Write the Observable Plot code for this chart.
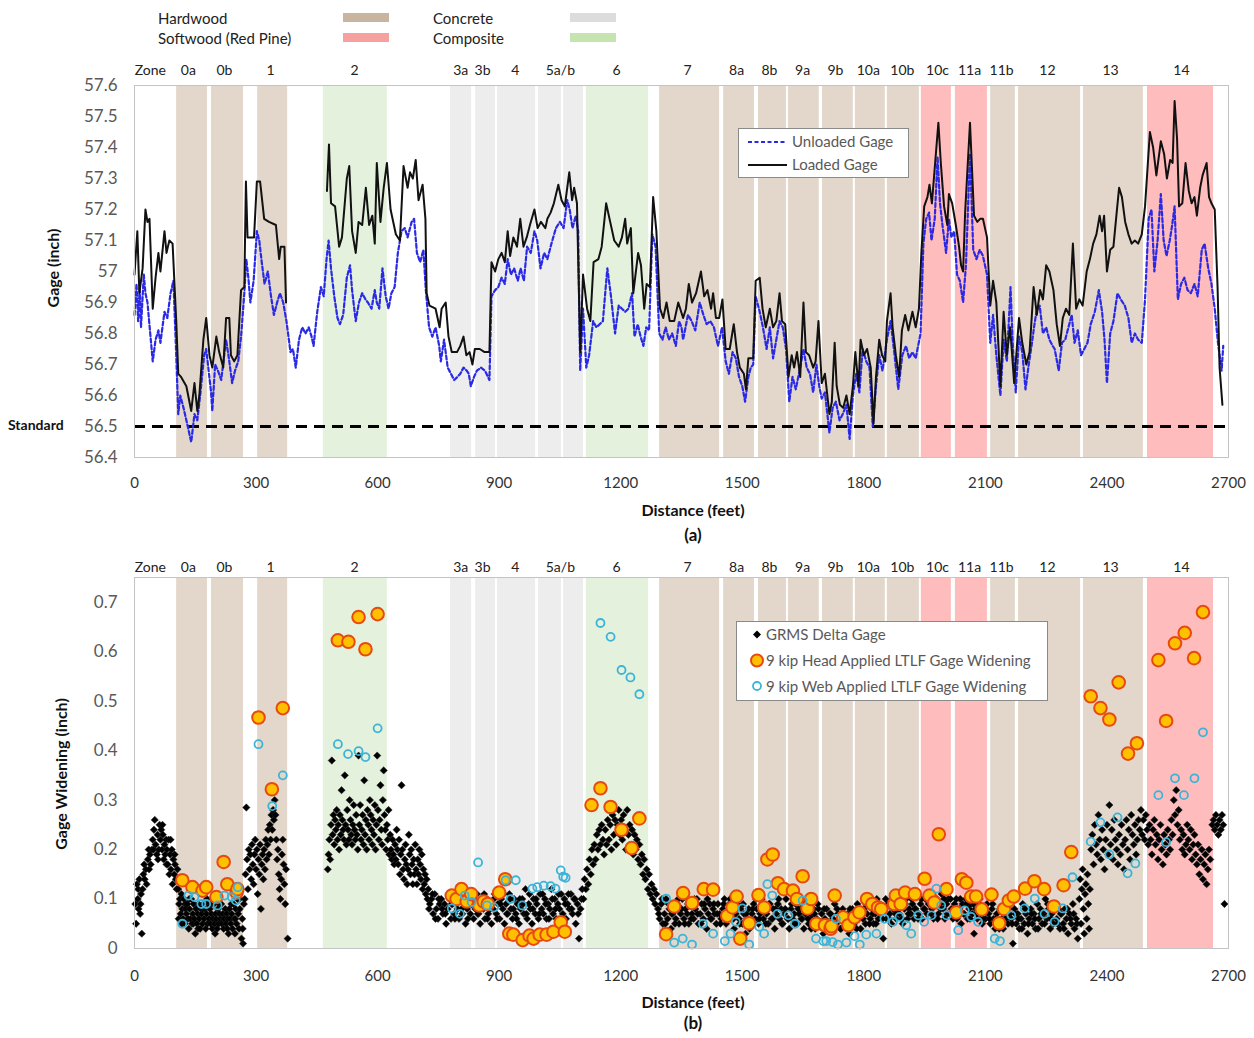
<!DOCTYPE html>
<html>
<head>
<meta charset="utf-8">
<script src="https://cdn.jsdelivr.net/npm/d3@7"></script>
<script src="https://cdn.jsdelivr.net/npm/@observablehq/plot@0.6"></script>
<style>
  html, body { margin:0; padding:0; background:#fff; }
  #wrap { position:relative; width:1254px; height:1038px; font-family: Lato, "Open Sans", sans-serif; color:#222; overflow:hidden; }
  .abs { position:absolute; white-space:nowrap; line-height:18px; }
  .sw { position:absolute; }
  .title { font-weight:bold; font-size:16px; color:#111; }
  .leg { position:absolute; background:#fff; border:1px solid #8a8a8a; }
  .legtxt { position:absolute; font-size:15px; color:#595959; white-space:nowrap; line-height:18px; }
</style>
</head>
<body>
<div id="wrap">
  <!-- material legend -->
  <div class="abs" style="left:158px;top:9px;font-size:15px;">Hardwood</div>
  <div class="abs" style="left:158px;top:29px;font-size:15px;">Softwood (Red Pine)</div>
  <div class="abs" style="left:433px;top:9px;font-size:15px;">Concrete</div>
  <div class="abs" style="left:433px;top:29px;font-size:15px;">Composite</div>
  <div class="sw" id="sw0" style="left:343px;top:13px;width:46px;height:9px;"></div>
  <div class="sw" id="sw1" style="left:343px;top:33px;width:46px;height:9px;"></div>
  <div class="sw" id="sw2" style="left:570px;top:13px;width:46px;height:9px;"></div>
  <div class="sw" id="sw3" style="left:570px;top:33px;width:46px;height:9px;"></div>

  <div id="plotA" style="position:absolute;left:0;top:50px;"></div>
  <div id="plotB" style="position:absolute;left:0;top:540px;"></div>

  <!-- axis titles -->
  <div class="abs title" style="left:53px;top:268px;transform:translate(-50%,-50%) rotate(-90deg);font-size:16px;">Gage (inch)</div>
  <div class="abs title" style="left:8px;top:416px;font-size:14px;">Standard</div>
  <div class="abs title" style="left:693px;top:510px;transform:translate(-50%,-50%);">Distance (feet)</div>
  <div class="abs title" style="left:693px;top:535px;transform:translate(-50%,-50%);font-size:17px;">(a)</div>

  <div class="abs title" style="left:61px;top:774px;transform:translate(-50%,-50%) rotate(-90deg);font-size:16px;">Gage Widening (inch)</div>
  <div class="abs title" style="left:693px;top:1002px;transform:translate(-50%,-50%);">Distance (feet)</div>
  <div class="abs title" style="left:693px;top:1023px;transform:translate(-50%,-50%);font-size:17px;">(b)</div>

  <!-- legend (a) -->
  <div class="leg" style="left:738px;top:128px;width:169px;height:48px;"></div>
  <svg style="position:absolute;left:745px;top:130px;" width="46" height="44">
    <line x1="3" y1="12" x2="42" y2="12" stroke="#2a2ae6" stroke-width="2.2" stroke-dasharray="4,2.5"/>
    <line x1="3" y1="35" x2="42" y2="35" stroke="#111" stroke-width="2"/>
  </svg>
  <div class="legtxt" style="left:792px;top:132px;">Unloaded Gage</div>
  <div class="legtxt" style="left:792px;top:155px;">Loaded Gage</div>

  <!-- legend (b) -->
  <div class="leg" style="left:736px;top:621px;width:310px;height:78px;"></div>
  <svg style="position:absolute;left:745px;top:622px;" width="24" height="76">
    <path d="M12,8.5 L16,12.5 L12,16.5 L8,12.5 Z" fill="#000"/>
    <circle cx="12" cy="38.5" r="6" fill="#ffc000" stroke="#e8490f" stroke-width="2"/>
    <circle cx="12" cy="64" r="4" fill="none" stroke="#3cb4d8" stroke-width="1.8"/>
  </svg>
  <div class="legtxt" style="left:766px;top:625px;">GRMS Delta Gage</div>
  <div class="legtxt" style="left:766px;top:651px;">9 kip Head Applied LTLF Gage Widening</div>
  <div class="legtxt" style="left:766px;top:677px;">9 kip Web Applied LTLF Gage Widening</div>
</div>

<script>
// ---------- zones ----------
const zoneStart = [104,190,304,466,780,842,896,997,1059,1115,1296,1454,1540,1614,1698,1779,1858,1942,2026,2113,2182,2342,2500];
const zoneEnd   = [180,269,378,624,832,891,990,1054,1108,1269,1444,1530,1609,1690,1774,1853,1937,2016,2105,2174,2335,2490,2663];
const zoneType  = ["Hardwood","Hardwood","Hardwood","Composite","Concrete","Concrete","Concrete","Concrete","Concrete","Composite",
                   "Hardwood","Hardwood","Hardwood","Hardwood","Hardwood","Hardwood","Hardwood","Softwood","Softwood","Hardwood",
                   "Hardwood","Hardwood","Softwood"];
const zoneLabelText = ["Zone","0a","0b","1","2","3a","3b","4","5a/b","6","7","8a","8b","9a","9b","10a","10b","10c","11a","11b","12","13","14"];
const zoneLabelPos  = [39,133,222,336,543,805,859,940,1051,1190,1365,1486,1567,1649,1730,1811,1895,1982,2061,2140,2253,2409,2584];
const materialNames = ["Hardwood","Softwood","Concrete","Composite"];
const bandColors    = ["#e2d7ca","#ffbcbc","#ededed","#e4f1dc"];
const swatchColors  = ["#c9b49f","#f7a0a0","#dcdcdc","#c6e4b0"];

// ---------- axes ----------
const xTicks  = [0,300,600,900,1200,1500,1800,2100,2400,2700];
const yTicksA = [56.4,56.5,56.6,56.7,56.8,56.9,57.0,57.1,57.2,57.3,57.4,57.5,57.6];
const yTicksB = [0,0.1,0.2,0.3,0.4,0.5,0.6,0.7];
const standardGage = 56.5;

// ---------- panel (a) series ----------
const loadedGage = [[0,56.99],[7,57.13],[12,56.93],[20,57.01],[27,57.2],[32,57.16],[37,57.17],[45,56.88],[52,56.98],[59,57.06],[64,57.0],[74,57.13],[79,57.06],[86,57.1],[94,57.09],[103,56.84],[108,56.67],[115,56.66],[128,56.63],[140,56.55],[148,56.64],[155,56.55],[160,56.6],[170,56.78],[177,56.85],[185,56.73],[192,56.69],[202,56.79],[209,56.74],[219,56.69],[226,56.85],[234,56.85],[238,56.73],[246,56.71],[254,56.73],[263,56.94],[271,56.95],[275,57.29],[279,57.11],[287,57.11],[295,57.11],[302,57.29],[310,57.29],[320,57.17],[332,57.16],[349,57.15],[357,57.04],[361,57.08],[370,57.08],[374,56.9],[420,null],[475,57.26],[480,57.41],[485,57.22],[495,57.21],[505,57.08],[512,57.11],[524,57.3],[530,57.34],[537,57.13],[546,57.06],[553,57.16],[562,57.15],[571,57.27],[579,57.15],[587,57.18],[593,57.09],[598,57.35],[607,57.16],[615,57.27],[623,57.35],[632,57.2],[645,57.12],[655,57.1],[664,57.34],[674,57.27],[680,57.32],[687,57.3],[694,57.36],[701,57.23],[711,57.28],[718,57.17],[721,56.93],[728,56.89],[743,56.88],[753,56.82],[758,56.88],[768,56.9],[775,56.79],[783,56.74],[796,56.74],[804,56.76],[812,56.79],[819,56.73],[827,56.74],[834,56.7],[840,56.75],[852,56.75],[864,56.74],[876,56.74],[881,57.03],[890,57.0],[898,57.04],[906,57.06],[914,57.03],[921,57.13],[927,57.05],[935,57.11],[944,57.08],[952,57.17],[960,57.08],[968,57.11],[976,57.15],[987,57.2],[995,57.14],[1003,57.16],[1014,57.14],[1019,57.17],[1027,57.19],[1035,57.22],[1046,57.28],[1054,57.23],[1062,57.21],[1073,57.32],[1080,57.23],[1085,57.27],[1092,57.22],[1100,56.74],[1107,56.99],[1117,56.88],[1125,56.84],[1133,57.03],[1145,57.04],[1153,57.08],[1164,57.22],[1174,57.16],[1184,57.1],[1195,57.08],[1203,57.11],[1211,57.17],[1216,57.09],[1225,57.14],[1231,56.93],[1243,57.06],[1250,57.02],[1258,56.88],[1264,56.96],[1272,56.95],[1280,57.24],[1288,57.13],[1297,56.88],[1305,56.85],[1313,56.9],[1321,56.84],[1332,56.84],[1342,56.9],[1354,56.85],[1361,56.88],[1368,56.96],[1376,56.9],[1386,56.93],[1398,57.0],[1406,56.92],[1414,56.94],[1423,56.88],[1428,56.93],[1435,56.85],[1443,56.85],[1451,56.91],[1459,56.75],[1469,56.75],[1479,56.83],[1487,56.74],[1494,56.69],[1504,56.67],[1509,56.62],[1515,56.72],[1527,56.72],[1533,56.97],[1543,56.98],[1550,56.88],[1558,56.82],[1568,56.88],[1576,56.82],[1584,56.84],[1592,56.93],[1598,56.84],[1606,56.83],[1614,56.66],[1622,56.73],[1628,56.69],[1635,56.74],[1643,56.66],[1651,56.9],[1657,56.74],[1665,56.73],[1675,56.69],[1681,56.71],[1688,56.84],[1696,56.64],[1704,56.67],[1715,56.54],[1721,56.58],[1728,56.77],[1733,56.63],[1741,56.57],[1749,56.56],[1757,56.6],[1765,56.54],[1773,56.63],[1779,56.74],[1787,56.63],[1792,56.78],[1800,56.73],[1808,56.75],[1817,56.69],[1824,56.51],[1830,56.66],[1838,56.78],[1845,56.73],[1853,56.71],[1857,56.84],[1866,56.93],[1871,56.82],[1879,56.73],[1887,56.66],[1894,56.81],[1902,56.86],[1910,56.81],[1920,56.87],[1928,56.82],[1936,56.88],[1942,57.06],[1949,57.21],[1957,57.24],[1962,57.28],[1968,57.22],[1976,57.35],[1984,57.48],[1990,57.35],[1998,57.21],[2006,57.15],[2010,57.25],[2018,57.22],[2027,57.15],[2035,57.08],[2040,57.02],[2045,57.0],[2050,57.19],[2062,57.48],[2072,57.18],[2080,57.16],[2087,57.17],[2094,57.17],[2104,57.11],[2112,56.89],[2119,56.97],[2127,56.9],[2137,56.63],[2145,56.87],[2153,56.73],[2161,56.82],[2171,56.64],[2183,56.85],[2191,56.77],[2201,56.7],[2209,56.74],[2219,56.95],[2227,56.86],[2235,56.94],[2242,56.91],[2250,57.02],[2258,57.0],[2268,56.94],[2276,56.83],[2284,56.76],[2291,56.85],[2299,56.88],[2307,56.86],[2316,57.09],[2324,56.88],[2332,56.91],[2340,56.89],[2350,57.0],[2358,57.04],[2366,57.09],[2374,57.12],[2382,57.18],[2388,57.13],[2393,57.18],[2400,57.0],[2408,57.07],[2416,57.08],[2424,57.19],[2430,57.27],[2437,57.24],[2445,57.16],[2453,57.12],[2461,57.09],[2469,57.1],[2477,57.09],[2486,57.12],[2494,57.21],[2500,57.33],[2506,57.45],[2514,57.4],[2522,57.31],[2533,57.42],[2541,57.38],[2548,57.3],[2556,57.36],[2562,57.35],[2567,57.55],[2573,57.43],[2578,57.21],[2586,57.22],[2594,57.35],[2602,57.26],[2609,57.22],[2616,57.24],[2622,57.18],[2630,57.27],[2636,57.31],[2646,57.35],[2652,57.24],[2658,57.22],[2666,57.2],[2673,56.95],[2678,56.69],[2685,56.57]];

const unloadedGage = [[0,56.86],[5,56.96],[9,56.84],[13,56.95],[16,56.82],[23,56.99],[27,56.93],[32,56.9],[45,56.71],[52,56.78],[59,56.81],[64,56.77],[74,56.87],[81,56.85],[89,56.93],[96,56.97],[103,56.73],[108,56.54],[113,56.6],[121,56.56],[128,56.52],[140,56.45],[148,56.54],[155,56.52],[162,56.6],[172,56.73],[177,56.75],[189,56.61],[192,56.55],[199,56.7],[206,56.68],[214,56.65],[226,56.78],[233,56.72],[241,56.64],[248,56.68],[256,56.71],[263,56.79],[271,56.93],[276,57.04],[281,56.98],[286,56.9],[294,56.97],[302,57.13],[308,57.1],[314,57.03],[321,56.96],[329,57.0],[337,56.92],[344,56.86],[352,56.9],[359,56.93],[367,56.9],[375,56.84],[385,56.74],[391,56.75],[398,56.69],[406,56.78],[414,56.82],[422,56.8],[430,56.82],[437,56.79],[442,56.76],[451,56.87],[460,56.95],[467,56.92],[474,57.04],[479,57.1],[485,57.01],[493,56.92],[501,56.85],[507,56.83],[515,56.86],[524,56.98],[532,57.02],[537,56.94],[546,56.84],[554,56.9],[562,56.93],[570,56.91],[576,56.9],[585,56.88],[593,56.94],[598,56.9],[604,56.88],[612,57.01],[620,56.92],[627,56.88],[634,56.93],[642,56.95],[650,57.06],[659,57.13],[667,57.14],[674,57.11],[684,57.16],[690,57.17],[697,57.06],[705,57.03],[713,57.07],[719,56.94],[727,56.82],[735,56.79],[743,56.82],[752,56.76],[756,56.71],[764,56.78],[773,56.69],[781,56.67],[789,56.65],[797,56.66],[804,56.67],[812,56.69],[820,56.68],[825,56.67],[830,56.63],[838,56.66],[845,56.68],[855,56.69],[865,56.68],[876,56.65],[881,56.92],[890,56.94],[898,56.95],[906,56.98],[914,56.96],[921,57.04],[929,56.99],[937,57.01],[946,56.97],[953,57.01],[961,56.97],[969,57.08],[978,57.06],[987,57.13],[994,57.1],[1002,57.01],[1011,57.06],[1019,57.04],[1029,57.09],[1040,57.14],[1050,57.16],[1059,57.14],[1068,57.23],[1074,57.2],[1081,57.14],[1089,57.18],[1095,57.13],[1100,56.68],[1107,56.88],[1115,56.69],[1122,56.73],[1132,56.84],[1140,56.82],[1148,56.83],[1156,56.84],[1163,56.95],[1167,57.01],[1176,56.92],[1186,56.8],[1195,56.89],[1203,56.88],[1211,56.87],[1219,56.88],[1228,56.93],[1234,56.79],[1242,56.83],[1249,56.79],[1256,56.76],[1263,56.82],[1270,56.81],[1278,57.12],[1286,57.08],[1295,56.8],[1303,56.78],[1311,56.82],[1319,56.78],[1327,56.8],[1336,56.76],[1344,56.84],[1350,56.82],[1354,56.78],[1366,56.86],[1375,56.84],[1384,56.81],[1395,56.9],[1404,56.86],[1412,56.83],[1421,56.84],[1430,56.82],[1440,56.76],[1450,56.82],[1459,56.71],[1467,56.67],[1476,56.74],[1484,56.72],[1492,56.66],[1500,56.63],[1507,56.58],[1515,56.66],[1521,56.69],[1527,56.7],[1533,56.92],[1543,56.87],[1551,56.82],[1560,56.75],[1568,56.82],[1576,56.72],[1584,56.78],[1592,56.84],[1600,56.82],[1608,56.75],[1616,56.58],[1624,56.66],[1632,56.62],[1643,56.69],[1651,56.75],[1659,56.69],[1667,56.67],[1675,56.61],[1683,56.7],[1690,56.63],[1696,56.59],[1704,56.61],[1715,56.48],[1723,56.56],[1731,56.58],[1740,56.52],[1748,56.54],[1757,56.57],[1765,56.46],[1773,56.6],[1781,56.67],[1789,56.61],[1797,56.75],[1806,56.71],[1814,56.69],[1822,56.5],[1830,56.63],[1838,56.73],[1846,56.68],[1857,56.78],[1866,56.84],[1875,56.74],[1885,56.62],[1895,56.73],[1904,56.76],[1912,56.72],[1920,56.74],[1928,56.72],[1940,56.8],[1947,57.09],[1954,57.17],[1961,57.19],[1967,57.1],[1975,57.17],[1982,57.37],[1988,57.22],[1994,57.15],[2003,57.06],[2010,57.17],[2016,57.11],[2023,57.13],[2030,56.99],[2037,56.97],[2045,56.9],[2052,57.02],[2062,57.38],[2070,57.07],[2078,57.04],[2086,57.07],[2094,57.05],[2104,56.99],[2112,56.77],[2119,56.86],[2127,56.73],[2137,56.6],[2145,56.78],[2153,56.71],[2162,56.95],[2168,56.75],[2175,56.61],[2183,56.79],[2191,56.74],[2199,56.62],[2207,56.7],[2215,56.77],[2220,56.82],[2226,56.87],[2234,56.89],[2242,56.8],[2250,56.82],[2258,56.78],[2266,56.76],[2271,56.75],[2281,56.68],[2289,56.77],[2297,56.78],[2305,56.82],[2313,56.86],[2320,56.77],[2328,56.81],[2336,56.73],[2344,56.75],[2352,56.77],[2360,56.83],[2370,56.87],[2380,56.94],[2388,56.87],[2394,56.78],[2400,56.64],[2408,56.8],[2416,56.84],[2426,56.93],[2434,56.91],[2444,56.89],[2453,56.85],[2461,56.77],[2469,56.8],[2477,56.78],[2486,56.77],[2494,56.91],[2503,57.17],[2510,57.2],[2517,57.0],[2525,57.1],[2533,57.25],[2540,57.1],[2547,57.05],[2555,57.1],[2561,57.15],[2567,57.21],[2575,56.91],[2583,56.96],[2591,56.98],[2599,56.94],[2607,56.93],[2616,56.96],[2624,56.92],[2634,57.07],[2641,57.09],[2650,57.01],[2658,56.96],[2666,56.88],[2674,56.77],[2683,56.68],[2687,56.76]];

// ---------- panel (b) series: GRMS delta gage (distance, widening) ----------
const grmsZone0 = [2,.09,4,.05,6,.13,8,.1,9,.12,10,.08,12,.14,14,.07,15,.09,16,.11,18,.03,20,.12,22,.15,24,.17,25,.14,28,.16,30,.13,33,.18,35,.2,36,.16,38,.19,40,.17,43,.2,45,.22,47,.2,48,.24,50,.26,52,.21,55,.19,57,.23,58,.18,60,.2,62,.25,64,.22,66,.24,68,.2,69,.25,70,.23,72,.18,74,.21,76,.19,78,.22,79,.17,80,.2,82,.17,84,.22,86,.15,88,.19,89,.22,90,.16,92,.2,94,.13,96,.18,98,.15,99,.19,100,.17,102,.14,104,.12,106,.16];
const grmsZone0ab = [108,.12,109,.06,110,.09,112,.1,114,.07,116,.11,117,.05,118,.08,120,.06,122,.1,124,.05,125,.09,126,.08,128,.07,130,.09,132,.06,134,.04,135,.1,136,.08,138,.06,140,.1,142,.05,144,.07,145,.05,146,.09,148,.06,150,.03,152,.08,154,.05,156,.07,157,.04,158,.09,160,.06,162,.04,164,.08,166,.07,168,.05,169,.08,170,.09,172,.06,174,.08,176,.04,178,.07,179,.1,180,.05,182,.09,184,.06,186,.08,188,.05,189,.09,190,.07,192,.04,194,.06,196,.09,198,.05,199,.03,200,.07,202,.06,204,.04,206,.08,208,.05,209,.09,210,.07,212,.06,214,.09,216,.05,218,.07,219,.06,220,.04,222,.06,224,.08,226,.05,228,.07,229,.04,230,.06,232,.03,234,.08,236,.06,238,.05,239,.09,240,.07,242,.04,244,.09,246,.06,248,.03,249,.06,250,.08,252,.05,254,.1,256,.07,258,.04,259,.1,260,.08,262,.12,264,.02,266,.06,267,.04,268,.01,270,.09];
const grmsZone1 = [272,.1,274,.15,276,.285,278,.18,280,.12,282,.2,284,.16,286,.19,288,.14,290,.21,292,.17,294,.13,296,.19,298,.22,300,.16,302,.2,304,.11,306,.18,308,.15,310,.21,312,.08,314,.17,316,.19,318,.14,320,.2,322,.16,324,.22,326,.18,328,.21,330,.24,332,.19,334,.25,336,.22,338,.27,340,.24,342,.28,344,.26,346,.3,348,.27,350,.22,352,.18,354,.2,356,.15,358,.12,360,.1,362,.14,364,.19,366,.22,368,.17,370,.13,372,.09,374,.16,378,.02];
const grmsZone2 = [477,.16,479,.19,481,.22,483,.18,485,.25,487,.38,489,.23,491,.27,493,.21,495,.26,497,.24,499,.28,501,.22,503,.25,505,.2,507,.27,509,.23,511,.32,513,.26,515,.24,517,.22,519,.35,521,.25,523,.21,525,.28,527,.24,529,.22,531,.3,533,.26,535,.23,537,.21,539,.25,541,.29,543,.24,545,.22,547,.27,549,.23,551,.2,553,.39,555,.25,557,.29,559,.22,561,.24,563,.27,565,.21,567,.34,569,.23,571,.26,573,.2,575,.28,577,.25,579,.22,581,.3,583,.27,585,.24,587,.21,589,.26,591,.23,593,.29,595,.2,597,.25,599,.39,601,.28,603,.22,605,.26,607,.33,609,.24,611,.21,613,.3,615,.36,617,.27,619,.24,621,.2,623,.25,625,.22,627,.28,629,.19,631,.23,633,.2,635,.18,637,.22,639,.19,641,.17,643,.21,645,.18,647,.24,649,.2,651,.17,653,.22,655,.15,657,.19,659,.33,661,.2,663,.16,665,.14,667,.18,669,.21,671,.17,673,.13,675,.16,677,.23,679,.19,681,.15,683,.2,685,.17,687,.13,689,.18,691,.15,693,.21,695,.16,697,.13,699,.18,701,.15,703,.2,705,.17,707,.14,709,.19,711,.12,713,.16,715,.13,717,.15,719,.11,721,.14,723,.1];
const grmsConcrete = [725,.12,729,.09,733,.1,737,.07,741,.11,745,.08,749,.06,753,.09,757,.1,761,.07,765,.09,769,.05,773,.08,777,.1,781,.06,785,.09,789,.07,793,.11,797,.08,801,.06,805,.1,809,.07,813,.09,817,.05,821,.08,825,.1,829,.07,833,.09,837,.06,841,.08,845,.11,849,.07,853,.05,857,.09,861,.08,865,.06,869,.1,873,.07,877,.09,881,.05,885,.08,889,.11,893,.07,897,.09,901,.06,905,.1,909,.08,913,.05,917,.09,921,.07,925,.11,929,.08,933,.06,937,.1,941,.07,945,.09,949,.05,953,.08,957,.1,961,.07,965,.12,969,.06,973,.09,977,.08,981,.05,985,.1,989,.07,993,.09,997,.06,1001,.11,1005,.08,1009,.07,1013,.1,1017,.06,1021,.09,1025,.08,1029,.12,1033,.07,1037,.1,1041,.06,1045,.09,1049,.08,1053,.11,1057,.07,1061,.1,1065,.06,1069,.09,1073,.08,1077,.11,1081,.07,1085,.1,1089,.05,1093,.09,1097,.02,1101,.08,1105,.12];
const grmsConcrete2 = [727,.08,735,.11,743,.06,751,.1,759,.08,767,.07,775,.11,783,.09,791,.06,799,.1,807,.08,815,.11,823,.06,831,.09,839,.1,847,.07,855,.09,863,.11,871,.06,879,.08,887,.1,895,.06,903,.09,911,.11,919,.07,927,.1,935,.08,943,.06,951,.1,959,.09,967,.07,975,.11,983,.08,991,.1,999,.07,1007,.11,1015,.09,1023,.06,1031,.1,1039,.08,1047,.11,1055,.06,1063,.09,1071,.11,1079,.08,1087,.1,1095,.07,1103,.1];
const grmsZone6 = [1108,.1,1111,.14,1114,.12,1117,.16,1120,.13,1123,.18,1126,.15,1129,.2,1132,.17,1135,.21,1138,.18,1141,.23,1144,.2,1147,.24,1150,.21,1153,.25,1156,.22,1159,.19,1162,.24,1165,.21,1168,.26,1171,.22,1174,.25,1177,.2,1180,.27,1183,.23,1186,.26,1189,.21,1192,.25,1195,.28,1198,.23,1201,.26,1204,.22,1207,.27,1210,.24,1213,.2,1216,.28,1219,.23,1222,.25,1225,.21,1228,.24,1231,.19,1234,.23,1237,.2,1240,.22,1243,.18,1246,.21,1249,.17,1252,.19,1255,.15,1258,.18,1261,.14,1264,.16,1267,.12,1270,.15,1273,.11,1276,.13,1279,.1,1282,.12,1285,.09,1288,.11];
const grmsZones7to12 = [1292,.08,1296,.06,1300,.09,1304,.05,1308,.07,1312,.1,1316,.06,1320,.08,1324,.04,1328,.07,1332,.09,1336,.06,1340,.08,1344,.05,1348,.07,1352,.1,1356,.06,1360,.08,1364,.07,1368,.05,1372,.09,1376,.07,1380,.06,1384,.08,1388,.1,1392,.05,1396,.07,1400,.09,1404,.06,1408,.08,1412,.04,1416,.07,1420,.09,1424,.06,1428,.08,1432,.07,1436,.05,1440,.09,1444,.07,1448,.06,1452,.08,1456,.1,1460,.05,1464,.07,1468,.09,1472,.06,1476,.08,1480,.04,1484,.07,1488,.09,1492,.06,1496,.08,1500,.05,1504,.07,1508,.03,1512,.06,1516,.08,1520,.05,1524,.07,1528,.09,1532,.06,1536,.08,1540,.05,1544,.07,1548,.1,1552,.06,1556,.08,1560,.07,1564,.05,1568,.09,1572,.06,1576,.08,1580,.04,1584,.07,1588,.09,1592,.06,1596,.08,1600,.05,1604,.07,1608,.1,1612,.06,1616,.04,1620,.08,1624,.06,1628,.07,1632,.09,1636,.05,1640,.07,1644,.08,1648,.06,1652,.04,1656,.07,1660,.09,1664,.05,1668,.07,1672,.06,1676,.08,1680,.04,1684,.06,1688,.08,1692,.05,1696,.07,1700,.03,1704,.06,1708,.08,1712,.05,1716,.07,1720,.04,1724,.06,1728,.09,1732,.05,1736,.07,1740,.06,1744,.04,1748,.08,1752,.06,1756,.05,1760,.07,1764,.03,1768,.06,1772,.08,1776,.05,1780,.07,1784,.09,1788,.06,1792,.04,1796,.07,1800,.08,1804,.05,1808,.07,1812,.09,1816,.06,1820,.08,1824,.05,1828,.07,1832,.1,1836,.06,1840,.08,1844,.07,1848,.02,1852,.08,1856,.06,1860,.09,1864,.07,1868,.05,1872,.08,1876,.1,1880,.06,1884,.08,1888,.07,1892,.09,1896,.05,1900,.08,1904,.1,1908,.06,1912,.08,1916,.07,1920,.09,1924,.06,1928,.08,1932,.11,1936,.07,1940,.09,1944,.06,1948,.08,1952,.1,1956,.07,1960,.09,1964,.11,1968,.08,1972,.06,1976,.09,1980,.1,1984,.07,1988,.09,1992,.11,1996,.08,2000,.06,2004,.09,2008,.1,2012,.07,2016,.08,2020,.06,2024,.09,2028,.1,2032,.07,2036,.08,2040,.05,2044,.09,2048,.07,2052,.1,2056,.06,2060,.08,2064,.09,2068,.07,2072,.03,2076,.08,2080,.06,2084,.09,2088,.07,2092,.05,2096,.08,2100,.06,2104,.09,2108,.07,2112,.05,2116,.08,2120,.06,2124,.04,2128,.07,2132,.05,2136,.08,2140,.06,2144,.04,2148,.07,2152,.09,2156,.05,2160,.07,2164,.06,2168,.01,2172,.08,2176,.05,2180,.07,2184,.04,2188,.06,2192,.09,2196,.05,2200,.07,2204,.03,2208,.06,2212,.08,2216,.05,2220,.07,2224,.04,2228,.09,2232,.06,2236,.08,2240,.05,2244,.07,2248,.1,2252,.06,2256,.08,2260,.04,2264,.07,2268,.05,2272,.09,2276,.06,2280,.08,2284,.04,2288,.07,2292,.05,2296,.08,2300,.06,2304,.03,2308,.07,2312,.05,2316,.09,2320,.04,2324,.06,2328,.02];
const grmsZones7to12b = [1294,.07,1302,.1,1310,.05,1318,.09,1326,.07,1334,.05,1342,.1,1350,.08,1358,.05,1366,.09,1374,.06,1382,.1,1390,.07,1398,.05,1406,.09,1414,.1,1422,.06,1430,.09,1438,.07,1446,.05,1454,.09,1462,.07,1470,.1,1478,.06,1486,.08,1494,.05,1502,.09,1510,.07,1518,.04,1526,.08,1534,.1,1542,.06,1550,.08,1558,.05,1566,.09,1574,.06,1582,.08,1590,.1,1598,.05,1606,.08,1614,.06,1622,.09,1630,.05,1638,.08,1646,.06,1654,.09,1662,.06,1670,.04,1678,.07,1686,.09,1694,.05,1702,.08,1710,.04,1718,.07,1726,.05,1734,.08,1742,.04,1750,.07,1758,.05,1766,.08,1774,.06,1782,.04,1790,.08,1798,.06,1806,.09,1814,.05,1822,.07,1830,.05,1838,.09,1846,.06,1854,.1,1862,.06,1870,.09,1878,.07,1886,.1,1894,.06,1902,.09,1910,.07,1918,.1,1926,.08,1934,.06,1942,.1,1950,.08,1958,.11,1966,.07,1974,.09,1982,.06,1990,.08,1998,.1,2006,.07,2014,.1,2022,.08,2030,.06,2038,.1,2046,.07,2054,.09,2062,.06,2070,.09,2078,.07,2086,.1,2094,.06,2102,.08,2110,.06,2118,.09,2126,.06,2134,.04,2142,.08,2150,.06,2158,.08,2166,.05,2174,.07,2182,.06,2190,.04,2198,.08,2206,.05,2214,.07,2222,.06,2230,.04,2238,.07,2246,.05,2254,.09,2262,.06,2270,.08,2278,.05,2286,.07,2294,.04,2302,.08,2310,.06,2318,.07,2326,.05];
const grmsZones13to14 = [2332,.1,2334,.14,2336,.05,2338,.12,2340,.16,2342,.08,2344,.03,2346,.11,2348,.13,2350,.06,2352,.15,2354,.09,2356,.04,2358,.12,2361,.2,2364,.23,2367,.17,2370,.25,2373,.21,2376,.19,2379,.27,2382,.22,2385,.18,2388,.24,2391,.2,2394,.16,2397,.22,2400,.25,2403,.19,2406,.29,2409,.21,2412,.24,2415,.18,2418,.26,2421,.22,2424,.2,2427,.17,2430,.23,2433,.19,2436,.25,2439,.21,2442,.16,2445,.22,2448,.26,2451,.2,2454,.24,2457,.18,2460,.27,2463,.23,2466,.21,2469,.25,2472,.19,2475,.22,2478,.26,2481,.24,2484,.28,2487,.23,2490,.26,2493,.22,2496,.27,2499,.24,2502,.21,2505,.25,2508,.22,2511,.19,2514,.24,2517,.26,2520,.21,2523,.23,2526,.18,2529,.22,2532,.25,2535,.2,2538,.17,2541,.23,2544,.21,2547,.19,2550,.24,2553,.22,2556,.2,2559,.26,2562,.23,2565,.3,2568,.27,2571,.32,2574,.25,2577,.28,2580,.22,2583,.24,2586,.2,2589,.23,2592,.19,2595,.21,2598,.25,2601,.22,2604,.2,2607,.24,2610,.18,2613,.21,2616,.23,2619,.19,2622,.17,2625,.21,2628,.15,2631,.18,2634,.2,2637,.14,2640,.17,2643,.19,2646,.13,2649,.16,2652,.2,2655,.18,2660,.25,2663,.26,2666,.24,2669,.27,2672,.25,2675,.23,2678,.26,2681,.24,2684,.27,2687,.25,2690,.09];

// 9 kip head applied LTLF gage widening
const headWidening = [[118,.138],[143,.124],[168,.117],[177,.124],[202,.104],[220,.175],[229,.13],[252,.113],[254,.12],[306,.467],[339,.322],[366,.486],[502,.623],[528,.62],[553,.67],[570,.605],[600,.676],[783,.107],[795,.1],[807,.12],[820,.095],[831,.11],[851,.087],[862,.095],[872,.09],[900,.113],[915,.14],[925,.03],[935,.028],[958,.017],[975,.026],[985,.02],[1000,.028],[1017,.028],[1034,.034],[1052,.053],[1062,.034],[1128,.29],[1150,.324],[1175,.286],[1202,.24],[1227,.203],[1246,.263],[1312,.029],[1332,.085],[1354,.112],[1376,.092],[1405,.12],[1428,.119],[1463,.066],[1476,.083],[1486,.105],[1495,.02],[1517,.051],[1540,.108],[1554,.083],[1562,.18],[1575,.19],[1588,.132],[1603,.12],[1625,.117],[1635,.1],[1649,.146],[1661,.081],[1670,.1],[1683,.05],[1704,.047],[1718,.04],[1720,.045],[1728,.107],[1749,.063],[1762,.047],[1777,.063],[1789,.073],[1808,.1],[1821,.09],[1835,.083],[1843,.08],[1875,.09],[1879,.107],[1891,.09],[1902,.113],[1926,.11],[1950,.141],[1962,.107],[1974,.093],[1985,.231],[2004,.12],[2028,.073],[2042,.14],[2053,.133],[2065,.105],[2077,.105],[2091,.079],[2115,.109],[2134,.051],[2146,.08],[2158,.097],[2170,.105],[2198,.121],[2221,.136],[2245,.12],[2269,.085],[2293,.128],[2312,.195],[2360,.51],[2384,.486],[2406,.463],[2429,.538],[2452,.394],[2474,.415],[2527,.583],[2546,.46],[2568,.617],[2592,.638],[2615,.587],[2637,.68]];

// 9 kip web applied LTLF gage widening
const webWidening = [[118,.05],[133,.107],[148,.104],[165,.09],[177,.09],[205,.087],[222,.107],[240,.104],[250,.097],[255,.124],[306,.413],[340,.288],[366,.35],[502,.413],[527,.393],[553,.399],[570,.387],[600,.445],[783,.081],[803,.07],[815,.107],[832,.094],[848,.174],[870,.087],[887,.083],[916,.138],[928,.1],[941,.138],[957,.087],[982,.121],[994,.124],[1010,.127],[1027,.126],[1039,.121],[1052,.158],[1058,.145],[1064,.143],[1150,.658],[1175,.63],[1202,.563],[1224,.548],[1246,.514],[1312,.101],[1332,.012],[1353,.02],[1376,.008],[1403,.05],[1428,.03],[1457,.015],[1471,.03],[1484,.054],[1500,.081],[1517,.008],[1542,.044],[1554,.03],[1562,.13],[1574,.107],[1587,.07],[1614,.067],[1630,.05],[1649,.097],[1682,.02],[1700,.015],[1707,.015],[1723,.013],[1731,.06],[1736,.008],[1757,.012],[1777,.025],[1790,.008],[1806,.028],[1831,.03],[1851,.06],[1872,.054],[1888,.064],[1905,.047],[1917,.03],[1934,.067],[1949,.054],[1967,.067],[1979,.121],[1991,.087],[2004,.067],[2033,.037],[2049,.077],[2065,.064],[2082,.054],[2123,.02],[2136,.015],[2164,.067],[2197,.081],[2222,.101],[2246,.07],[2271,.054],[2291,.081],[2315,.144],[2360,.216],[2384,.255],[2406,.19],[2426,.265],[2451,.152],[2470,.172],[2527,.31],[2546,.215],[2568,.344],[2590,.31],[2616,.344],[2637,.437]];

// ---------- build ----------
const colorOf = Object.fromEntries(materialNames.map((m,i)=>[m,bandColors[i]]));
["sw0","sw1","sw2","sw3"].forEach((id,i)=>{ document.getElementById(id).style.background = swatchColors[i]; });

const zones = zoneStart.map((s,i)=>({start:s, end:zoneEnd[i], type:zoneType[i]}));
const zoneLabels = zoneLabelText.map((t,i)=>({text:t, pos:zoneLabelPos[i]}));
const pairs = flat => { const out=[]; for (let i=0;i<flat.length;i+=2) out.push([flat[i], flat[i+1]]); return out; };
const grms = [grmsZone0, grmsZone0ab, grmsZone1, grmsZone2, grmsConcrete, grmsConcrete2, grmsZone6, grmsZones7to12, grmsZones7to12b, grmsZones13to14].flatMap(pairs);

const fmtX = d => String(d);
const fmtA = d => String(+d.toFixed(1));
const fmtB = d => String(+d.toFixed(1));
const FONT = "Lato, 'Open Sans', sans-serif";

const plotA = Plot.plot({
  width: 1254, height: 437,
  marginTop: 35, marginBottom: 30, marginLeft: 134, marginRight: 26,
  style: {fontFamily: FONT, background: "transparent", overflow: "visible"},
  x: {domain: [0, 2700]},
  y: {domain: [56.4, 57.6]},
  color: {type: "identity"},
  marks: [
    Plot.rect(zones, {x1: "start", x2: "end", fill: d => colorOf[d.type]}),
    Plot.ruleY([standardGage], {stroke: "#000", strokeWidth: 3, strokeDasharray: "11,7"}),
    Plot.line(unloadedGage, {x: d => d[0], y: d => d[1], stroke: "#2a2ae6", strokeWidth: 2.2, strokeDasharray: "4,2.5"}),
    Plot.line(loadedGage, {x: d => d[0], y: d => d[1], stroke: "#111", strokeWidth: 2}),
    Plot.frame({stroke: "#c4c4c4"}),
    Plot.axisX(xTicks, {tickSize: 0, tickPadding: 20, fontSize: 15, color: "#333", tickFormat: fmtX, label: null}),
    Plot.axisY(yTicksA, {tickSize: 0, tickPadding: 17, fontSize: 17, color: "#595959", tickFormat: fmtA, label: null}),
    Plot.text(zoneLabels, {x: "pos", text: "text", frameAnchor: "top", dy: -15, fontSize: 14, fill: "#222", lineAnchor: "middle"})
  ]
});
document.getElementById("plotA").append(plotA);

const plotB = Plot.plot({
  width: 1254, height: 458,
  marginTop: 37, marginBottom: 50, marginLeft: 134, marginRight: 26,
  style: {fontFamily: FONT, background: "transparent", overflow: "visible"},
  x: {domain: [0, 2700]},
  y: {domain: [0, 0.75]},
  color: {type: "identity"},
  marks: [
    Plot.rect(zones, {x1: "start", x2: "end", fill: d => colorOf[d.type]}),
    Plot.dot(grms, {x: d => d[0], y: d => d[1], symbol: "diamond2", r: 3.3, fill: "#000", stroke: "#222", strokeWidth: 0.5}),
    Plot.dot(headWidening, {x: d => d[0], y: d => d[1], r: 6.3, fill: "#ffc000", stroke: "#e8490f", strokeWidth: 2}),
    Plot.dot(webWidening, {x: d => d[0], y: d => d[1], r: 4, fill: "none", stroke: "#3cb4d8", strokeWidth: 1.8}),
    Plot.frame({stroke: "#c4c4c4"}),
    Plot.axisX(xTicks, {tickSize: 0, tickPadding: 22, fontSize: 15, color: "#333", tickFormat: fmtX, label: null}),
    Plot.axisY(yTicksB, {tickSize: 0, tickPadding: 17, fontSize: 17, color: "#595959", tickFormat: fmtB, label: null}),
    Plot.text(zoneLabels, {x: "pos", text: "text", frameAnchor: "top", dy: -10, fontSize: 14, fill: "#222", lineAnchor: "middle"})
  ]
});
document.getElementById("plotB").append(plotB);
</script>
</body>
</html>
